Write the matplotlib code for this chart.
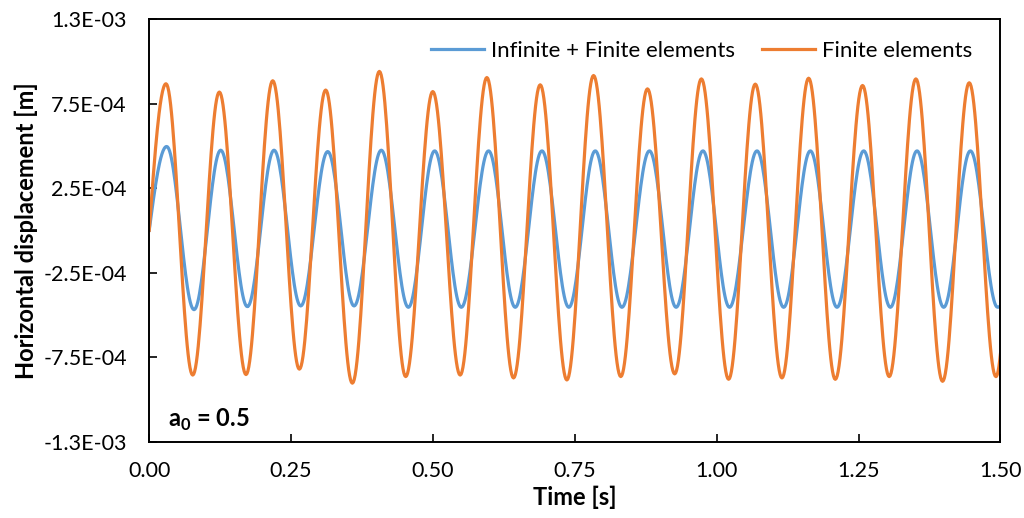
import numpy as np
import matplotlib
matplotlib.use("Agg")
import matplotlib.pyplot as plt

plt.rcParams['font.family'] = ['Lato', 'DejaVu Sans']
plt.rcParams['mathtext.fontset'] = 'custom'
plt.rcParams['mathtext.rm'] = 'Lato'
plt.rcParams['mathtext.bf'] = 'Lato:bold'

# extrema (time [s], displacement [m]); series start at 0 and end at t = 1.5
fe_t = [0.0, 0.0296, 0.0767, 0.1236, 0.1706, 0.2177, 0.2646, 0.3110, 0.3580, 0.4056, 0.4520,
        0.4997, 0.5480, 0.5950, 0.6420, 0.6890, 0.7360, 0.7830, 0.8310, 0.8780, 0.9260,
        0.9730, 1.0210, 1.0680, 1.1150, 1.1620, 1.2090, 1.2570, 1.3040, 1.3510, 1.3980,
        1.4450, 1.4920, 1.5000]
fe_y = [0.0, 8.67e-4, -8.56e-4, 8.18e-4, -8.53e-4, 8.85e-4, -8.21e-4, 8.30e-4, -9.04e-4,
        9.40e-4, -8.65e-4, 8.21e-4, -8.56e-4, 9.04e-4, -8.73e-4, 8.61e-4, -8.85e-4, 9.16e-4,
        -8.65e-4, 8.37e-4, -8.49e-4, 8.96e-4, -8.81e-4, 8.65e-4, -8.73e-4, 9.00e-4, -8.81e-4,
        8.57e-4, -8.65e-4, 8.96e-4, -8.93e-4, 8.73e-4, -8.65e-4, -7.30e-4]

ife_t = [0.0, 0.0308, 0.0790, 0.1260, 0.1730, 0.2200, 0.2670, 0.3146, 0.3610, 0.4090, 0.4567,
         0.5030, 0.5500, 0.5980, 0.6450, 0.6920, 0.7395, 0.7860, 0.8330, 0.8815, 0.9285,
         0.9757, 1.0226, 1.0710, 1.1180, 1.1650, 1.2120, 1.2590, 1.3060, 1.3530, 1.4000,
         1.4470, 1.4950, 1.5000]
ife_y = [0.0, 4.96e-4, -4.69e-4, 4.74e-4, -4.51e-4, 4.74e-4, -4.47e-4, 4.66e-4, -4.47e-4,
         4.74e-4, -4.55e-4, 4.70e-4, -4.55e-4, 4.70e-4, -4.55e-4, 4.70e-4, -4.55e-4, 4.70e-4,
         -4.55e-4, 4.70e-4, -4.55e-4, 4.70e-4, -4.55e-4, 4.70e-4, -4.55e-4, 4.70e-4, -4.55e-4,
         4.70e-4, -4.55e-4, 4.70e-4, -4.55e-4, 4.70e-4, -4.55e-4, -4.45e-4]

y_ticks = [-1.25e-3, -7.5e-4, -2.5e-4, 2.5e-4, 7.5e-4, 1.25e-3]
y_labels = ['-1.3E-03', '-7.5E-04', '-2.5E-04', '2.5E-04', '7.5E-04', '1.3E-03']
x_ticks = [0.0, 0.25, 0.5, 0.75, 1.0, 1.25, 1.5]


def smooth(tk, yk, n=30):
    # join the extrema with half-cosine arcs so the trace looks like the original
    tk = np.asarray(tk)
    yk = np.asarray(yk)
    half = np.mean(np.diff(tk[1:-1]))
    ts, ys = [], []
    for i in range(len(tk) - 1):
        t0, t1, y0, y1 = tk[i], tk[i + 1], yk[i], yk[i + 1]
        t = np.linspace(t0, t1, n)
        if i == 0:
            y = y1 * np.sin(0.5 * np.pi * (t - t0) / (t1 - t0))
        elif i == len(tk) - 2:
            ph = np.pi * (t1 - t0) / half
            y = y0 + (y1 - y0) * (1 - np.cos(np.pi * (t - t0) / half)) / (1 - np.cos(ph))
        else:
            y = y0 + (y1 - y0) * (1 - np.cos(np.pi * (t - t0) / (t1 - t0))) / 2
        ts.append(t)
        ys.append(y)
    return np.concatenate(ts), np.concatenate(ys)


fig = plt.figure(figsize=(10.24, 5.18), dpi=100)
ax = fig.add_axes([0.1457, 0.1473, 0.8313, 0.816])

t1, y1 = smooth(ife_t, ife_y)
t2, y2 = smooth(fe_t, fe_y)
ax.plot(t1, y1, color='#5B9BD5', lw=2.3, label='Infinite + Finite elements')
ax.plot(t2, y2, color='#ED7D31', lw=2.3, label='Finite elements')

ax.set_xlim(0, 1.5)
ax.set_ylim(-1.25e-3, 1.25e-3)
ax.set_xticks(x_ticks)
ax.set_xticklabels([f'{v:.2f}' for v in x_ticks])
ax.set_yticks(y_ticks)
ax.set_yticklabels(y_labels)
ax.tick_params(direction='in', length=6, width=1.2, labelsize=15.5, colors='black')
ax.tick_params(axis='y', pad=16)
ax.tick_params(axis='x', pad=14)

for s in ax.spines.values():
    s.set_linewidth(1.4)
    s.set_color('black')

ax.set_xlabel('Time [s]', fontsize=17, fontweight='bold', labelpad=3)
ax.set_ylabel('Horizontal displacement [m]', fontsize=17, fontweight='bold', labelpad=4)

ax.text(0.022, 0.035, r'a$_\mathbf{0}$ = 0.5', transform=ax.transAxes,
        fontsize=17, fontweight='bold')

ax.legend(loc='upper right', ncol=2, frameon=False, fontsize=16,
          handlelength=2.4, columnspacing=1.2, handletextpad=0.3,
          bbox_to_anchor=(0.99, 0.995))

fig.savefig('out.png', dpi=100)
